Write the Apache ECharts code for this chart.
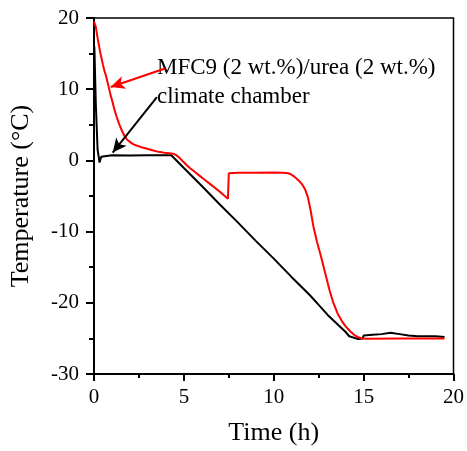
<!DOCTYPE html>
<html><head><meta charset="utf-8">
<script src="https://cdn.jsdelivr.net/npm/echarts@6/dist/echarts.min.js"></script>
<style>html,body{margin:0;padding:0;background:#fff}#c{width:467px;height:451px}</style>
</head><body><div id="c"></div>
<script>
const redTime = [0,0.05,0.1,0.13,0.18,0.25,0.33,0.42,0.5,0.58,0.67,0.8,0.93,1.03,1.13,1.25,1.4,1.55,1.68,1.85,2.05,2.2,2.4,2.7,3.0,3.3,3.6,3.9,4.2,4.4,4.6,4.8,4.97,5.15,5.35,5.6,5.85,6.1,6.5,7.0,7.45,7.5,8,9,10,10.5,10.8,10.95,11.1,11.25,11.4,11.5,11.6,11.75,11.9,12.05,12.2,12.4,12.64,12.85,13.1,13.3,13.55,13.8,14.0,14.25,14.47,14.7,14.92,15.2,17,19.5];
const redTemp = [19.5,19.3,18.8,18.3,17.5,16.5,15.4,14.3,13.4,12.6,11.85,10.5,9.1,8.2,7.2,6.2,5.1,4.2,3.5,2.9,2.5,2.25,2.05,1.8,1.6,1.4,1.2,1.07,1.0,0.95,0.7,0.25,-0.2,-0.65,-1.1,-1.6,-2.1,-2.6,-3.4,-4.4,-5.4,-1.8,-1.75,-1.72,-1.7,-1.72,-1.8,-1.95,-2.2,-2.5,-2.85,-3.1,-3.45,-4.1,-5.2,-7.0,-9.2,-11.4,-13.6,-15.7,-18.2,-19.9,-21.5,-22.6,-23.3,-24.0,-24.5,-24.85,-25.0,-25.05,-25.0,-25.0];
const blackTime = [0.02,0.1,0.2,0.31,0.4,0.5,1,2,3,4.3,5,6,7,8,9,10,11,12,12.5,13,13.5,14,14.2,14.7,14.95,15.0,15.5,16,16.5,17,17.5,18,19,19.5];
const blackTemp = [16,8,1.5,-0.3,0.5,0.75,0.72,0.7,0.72,0.72,-1.07,-3.6,-6.2,-8.7,-11.3,-13.8,-16.4,-18.9,-20.3,-21.7,-22.9,-24.1,-24.7,-25.1,-25.0,-24.6,-24.5,-24.4,-24.2,-24.4,-24.6,-24.7,-24.7,-24.8];
const xTicks = [0,5,10,15,20];
const yTicks = [-30,-20,-10,0,10,20];
const redLabel = 'MFC9 (2 wt.%)/urea (2 wt.%)';
const blackLabel = 'climate chamber';
const redArrow = [[3.95,12.9],[0.93,10.3]];
const blackArrow = [[3.5,8.9],[1.04,1.1]];

const F = '"Liberation Serif","Times New Roman",serif';
const zip = (a,b)=>a.map((v,i)=>[v,b[i]]);
const chart = echarts.init(document.getElementById('c'));
chart.setOption({
  animation:false,
  backgroundColor:'#fff',
  grid:{left:91,right:11,top:18,bottom:73,show:true,borderColor:'#000',borderWidth:1.5,backgroundColor:'transparent'},
  xAxis:{type:'value',min:xTicks[0],max:xTicks[xTicks.length-1],interval:5,
    name:'Time (h)',nameLocation:'middle',nameGap:46,
    nameTextStyle:{fontFamily:F,fontSize:26,color:'#000'},
    axisLine:{onZero:false,lineStyle:{color:'#000',width:2}},
    axisTick:{inside:false,length:7,lineStyle:{color:'#000',width:2}},
    minorTick:{show:true,splitNumber:2,length:4,lineStyle:{color:'#000',width:2}},
    axisLabel:{fontFamily:F,fontSize:21,color:'#000',margin:13},
    splitLine:{show:false}},
  yAxis:{type:'value',min:yTicks[0],max:yTicks[yTicks.length-1],interval:10,
    name:'Temperature (°C)',nameLocation:'middle',nameGap:60,nameRotate:90,
    nameTextStyle:{fontFamily:F,fontSize:26,color:'#000'},
    axisLine:{onZero:false,lineStyle:{color:'#000',width:2}},
    axisTick:{inside:false,length:8,lineStyle:{color:'#000',width:2}},
    minorTick:{show:true,splitNumber:2,length:5,lineStyle:{color:'#000',width:2}},
    axisLabel:{fontFamily:F,fontSize:21,color:'#000',margin:15},
    splitLine:{show:false}},
  series:[
    {type:'line',name:'climate chamber',data:zip(blackTime,blackTemp),showSymbol:false,
     lineStyle:{color:'#000',width:2},z:3,
     markLine:{silent:true,symbol:['none','arrow'],symbolSize:[10,14],label:{show:false},
       lineStyle:{color:'#000',width:2,type:'solid'},
       data:[[{coord:blackArrow[0]},{coord:blackArrow[1]}]]}},
    {type:'line',name:'MFC9',data:zip(redTime,redTemp),showSymbol:false,
     lineStyle:{color:'#ff0000',width:2},z:4,
     markLine:{silent:true,symbol:['none','arrow'],symbolSize:[10,14],label:{show:false},
       lineStyle:{color:'#ff0000',width:2,type:'solid'},
       data:[[{coord:redArrow[0]},{coord:redArrow[1]}]]}}
  ],
  graphic:[
    {type:'text',left:157,top:56,style:{text:redLabel,font:'23px '+F,fill:'#000'}},
    {type:'text',left:157,top:85,style:{text:blackLabel,font:'23px '+F,fill:'#000'}}
  ]
});
</script></body></html>
